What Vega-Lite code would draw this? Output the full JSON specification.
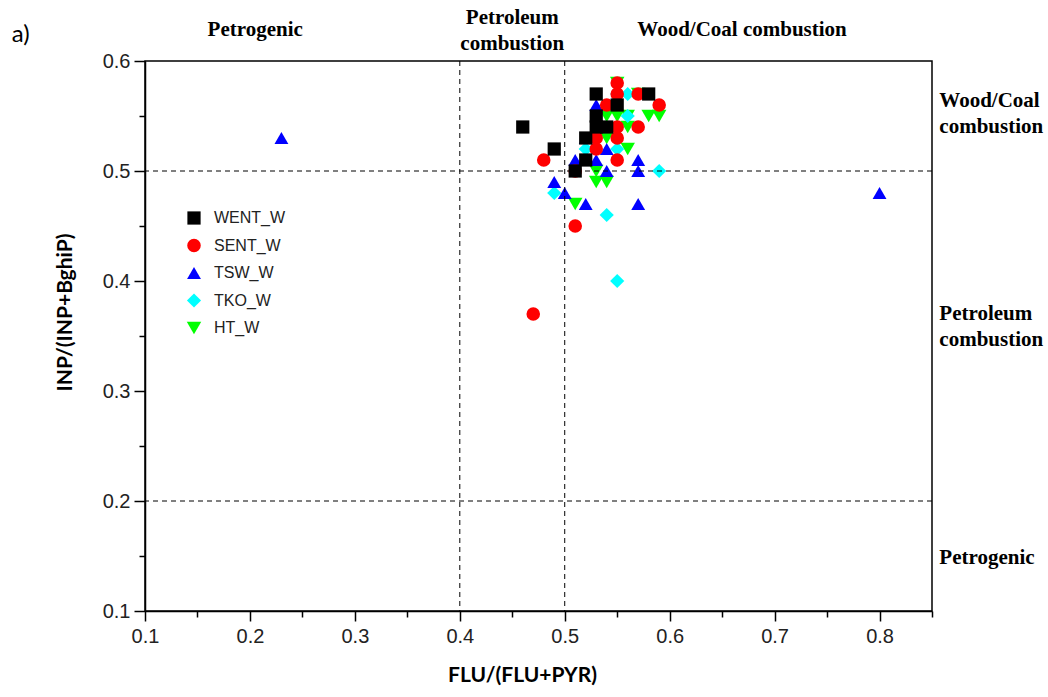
{
  "$schema": "https://vega.github.io/schema/vega-lite/v6.json",
  "autosize": {"type": "none"},
  "padding": {"left": 145, "top": 61, "right": 116, "bottom": 86},
  "width": 787,
  "height": 550,
  "background": "white",
  "config": {
    "view": {"stroke": "black", "strokeWidth": 1.5},
    "axis": {
      "domainColor": "black", "domainWidth": 1.5, "tickColor": "black", "tickWidth": 1.5,
      "labelFont": "Liberation Sans", "labelColor": "#222",
      "titleFont": "Lato", "titleFontSize": 21, "titleFontWeight": "bold", "titleColor": "black",
      "grid": false
    }
  },
  "layer": [
    {
      "data": {"values": [
        {"series": "HT_W", "x": 0.55, "y": 0.58}, {"series": "HT_W", "x": 0.57, "y": 0.57},
        {"series": "HT_W", "x": 0.54, "y": 0.55}, {"series": "HT_W", "x": 0.55, "y": 0.55},
        {"series": "HT_W", "x": 0.56, "y": 0.55}, {"series": "HT_W", "x": 0.58, "y": 0.55},
        {"series": "HT_W", "x": 0.59, "y": 0.55}, {"series": "HT_W", "x": 0.56, "y": 0.54},
        {"series": "HT_W", "x": 0.54, "y": 0.53}, {"series": "HT_W", "x": 0.56, "y": 0.52},
        {"series": "HT_W", "x": 0.53, "y": 0.50}, {"series": "HT_W", "x": 0.53, "y": 0.49},
        {"series": "HT_W", "x": 0.54, "y": 0.49}, {"series": "HT_W", "x": 0.51, "y": 0.47},
        {"series": "TKO_W", "x": 0.56, "y": 0.57}, {"series": "TKO_W", "x": 0.55, "y": 0.57},
        {"series": "TKO_W", "x": 0.56, "y": 0.55}, {"series": "TKO_W", "x": 0.52, "y": 0.52},
        {"series": "TKO_W", "x": 0.55, "y": 0.52}, {"series": "TKO_W", "x": 0.59, "y": 0.50},
        {"series": "TKO_W", "x": 0.49, "y": 0.48}, {"series": "TKO_W", "x": 0.54, "y": 0.46},
        {"series": "TKO_W", "x": 0.55, "y": 0.40},
        {"series": "TSW_W", "x": 0.23, "y": 0.53}, {"series": "TSW_W", "x": 0.80, "y": 0.48},
        {"series": "TSW_W", "x": 0.53, "y": 0.56}, {"series": "TSW_W", "x": 0.52, "y": 0.53},
        {"series": "TSW_W", "x": 0.51, "y": 0.51}, {"series": "TSW_W", "x": 0.53, "y": 0.51},
        {"series": "TSW_W", "x": 0.54, "y": 0.52}, {"series": "TSW_W", "x": 0.57, "y": 0.51},
        {"series": "TSW_W", "x": 0.54, "y": 0.50}, {"series": "TSW_W", "x": 0.57, "y": 0.50},
        {"series": "TSW_W", "x": 0.49, "y": 0.49}, {"series": "TSW_W", "x": 0.50, "y": 0.48},
        {"series": "TSW_W", "x": 0.52, "y": 0.47}, {"series": "TSW_W", "x": 0.57, "y": 0.47},
        {"series": "SENT_W", "x": 0.55, "y": 0.58}, {"series": "SENT_W", "x": 0.55, "y": 0.57},
        {"series": "SENT_W", "x": 0.57, "y": 0.57}, {"series": "SENT_W", "x": 0.59, "y": 0.56},
        {"series": "SENT_W", "x": 0.54, "y": 0.56}, {"series": "SENT_W", "x": 0.55, "y": 0.54},
        {"series": "SENT_W", "x": 0.57, "y": 0.54}, {"series": "SENT_W", "x": 0.55, "y": 0.53},
        {"series": "SENT_W", "x": 0.53, "y": 0.53}, {"series": "SENT_W", "x": 0.53, "y": 0.52},
        {"series": "SENT_W", "x": 0.48, "y": 0.51}, {"series": "SENT_W", "x": 0.55, "y": 0.51},
        {"series": "SENT_W", "x": 0.51, "y": 0.50}, {"series": "SENT_W", "x": 0.51, "y": 0.45},
        {"series": "SENT_W", "x": 0.47, "y": 0.37},
        {"series": "WENT_W", "x": 0.46, "y": 0.54}, {"series": "WENT_W", "x": 0.49, "y": 0.52},
        {"series": "WENT_W", "x": 0.51, "y": 0.50}, {"series": "WENT_W", "x": 0.52, "y": 0.51},
        {"series": "WENT_W", "x": 0.52, "y": 0.53}, {"series": "WENT_W", "x": 0.53, "y": 0.57},
        {"series": "WENT_W", "x": 0.53, "y": 0.55}, {"series": "WENT_W", "x": 0.53, "y": 0.54},
        {"series": "WENT_W", "x": 0.54, "y": 0.54}, {"series": "WENT_W", "x": 0.55, "y": 0.56},
        {"series": "WENT_W", "x": 0.58, "y": 0.57}
      ]},
      "mark": {"type": "point", "filled": true, "opacity": 1},
      "encoding": {
        "x": {
          "field": "x", "type": "quantitative",
          "scale": {"domain": [0.1, 0.85], "nice": false, "zero": false},
          "title": "FLU/(FLU+PYR)",
          "axis": {
            "values": [0.1, 0.15, 0.2, 0.25, 0.3, 0.35, 0.4, 0.45, 0.5, 0.55, 0.6, 0.65, 0.7, 0.75, 0.8, 0.85],
            "labelExpr": "round(datum.value*100) % 10 == 0 ? format(datum.value, '.1f') : ''",
            "tickSize": {"condition": {"test": "round(datum.value*100) % 10 != 0", "value": 6}, "value": 10},
            "labelFontSize": 20,
            "labelPadding": 5, "titlePadding": 18, "titleX": 377, "labelFlush": false, "labelOverlap": false
          }
        },
        "y": {
          "field": "y", "type": "quantitative",
          "scale": {"domain": [0.1, 0.6], "nice": false, "zero": false},
          "title": "INP/(INP+BghiP)",
          "axis": {
            "values": [0.1, 0.15, 0.2, 0.25, 0.3, 0.35, 0.4, 0.45, 0.5, 0.55, 0.6],
            "labelExpr": "round(datum.value*100) % 10 == 0 ? format(datum.value, '.1f') : ''",
            "tickSize": {"condition": {"test": "round(datum.value*100) % 10 != 0", "value": 6}, "value": 11},
            "labelFontSize": 20,
            "labelPadding": 4, "titlePadding": 27, "titleY": 251, "labelFlush": false, "labelOverlap": false
          }
        },
        "color": {
          "field": "series", "type": "nominal",
          "scale": {"domain": ["WENT_W", "SENT_W", "TSW_W", "TKO_W", "HT_W"], "range": ["#000000", "#FF0000", "#0000FF", "#00FFFF", "#00FF00"]},
          "legend": {
            "title": null, "orient": "none", "legendX": 41, "legendY": 149, "padding": 0,
            "labelFont": "Liberation Sans", "labelFontSize": 16, "labelColor": "#222",
            "rowPadding": 11.5, "symbolSize": 180, "labelOffset": 12, "symbolStrokeWidth": 0
          }
        },
        "shape": {
          "field": "series", "type": "nominal",
          "scale": {"domain": ["WENT_W", "SENT_W", "TSW_W", "TKO_W", "HT_W"], "range": ["square", "circle", "triangle-up", "diamond", "triangle-down"]}
        },
        "size": {
          "field": "series", "type": "nominal",
          "scale": {"domain": ["WENT_W", "SENT_W", "TSW_W", "TKO_W", "HT_W"], "range": [175, 210, 290, 250, 290]},
          "legend": null
        }
      }
    },
    {
      "data": {"values": [{"v": 0.4}, {"v": 0.5}]},
      "mark": {"type": "rule", "strokeDash": [5, 4], "color": "black", "strokeWidth": 1},
      "encoding": {"x": {"field": "v", "type": "quantitative"}}
    },
    {
      "data": {"values": [{"v": 0.5}, {"v": 0.2}]},
      "mark": {"type": "rule", "strokeDash": [5, 4], "color": "black", "strokeWidth": 1},
      "encoding": {"y": {"field": "v", "type": "quantitative"}}
    },
    {
      "data": {"values": [
        {"label": "Petrogenic", "x": 0.205, "y": 0.628},
        {"label": "Petroleum\ncombustion", "x": 0.45, "y": 0.639},
        {"label": "Wood/Coal combustion", "x": 0.669, "y": 0.628}
      ]},
      "mark": {"type": "text", "font": "Liberation Serif", "fontWeight": "bold", "fontSize": 21, "align": "center", "baseline": "middle", "lineBreak": "\n", "lineHeight": 26, "clip": false, "color": "black"},
      "encoding": {
        "x": {"field": "x", "type": "quantitative"},
        "y": {"field": "y", "type": "quantitative"},
        "text": {"field": "label"}
      }
    },
    {
      "data": {"values": [
        {"label": "Wood/Coal\ncombustion", "x": 0.857, "y": 0.564},
        {"label": "Petroleum\ncombustion", "x": 0.857, "y": 0.370},
        {"label": "Petrogenic", "x": 0.857, "y": 0.148}
      ]},
      "mark": {"type": "text", "font": "Liberation Serif", "fontWeight": "bold", "fontSize": 21, "align": "left", "baseline": "middle", "lineBreak": "\n", "lineHeight": 26, "clip": false, "color": "black"},
      "encoding": {
        "x": {"field": "x", "type": "quantitative"},
        "y": {"field": "y", "type": "quantitative"},
        "text": {"field": "label"}
      }
    },
    {
      "data": {"values": [{"label": "a)", "x": -0.027, "y": 0.624}]},
      "mark": {"type": "text", "font": "Lato", "fontSize": 24, "align": "left", "baseline": "middle", "clip": false, "color": "black"},
      "encoding": {
        "x": {"field": "x", "type": "quantitative"},
        "y": {"field": "y", "type": "quantitative"},
        "text": {"field": "label"}
      }
    }
  ]
}
